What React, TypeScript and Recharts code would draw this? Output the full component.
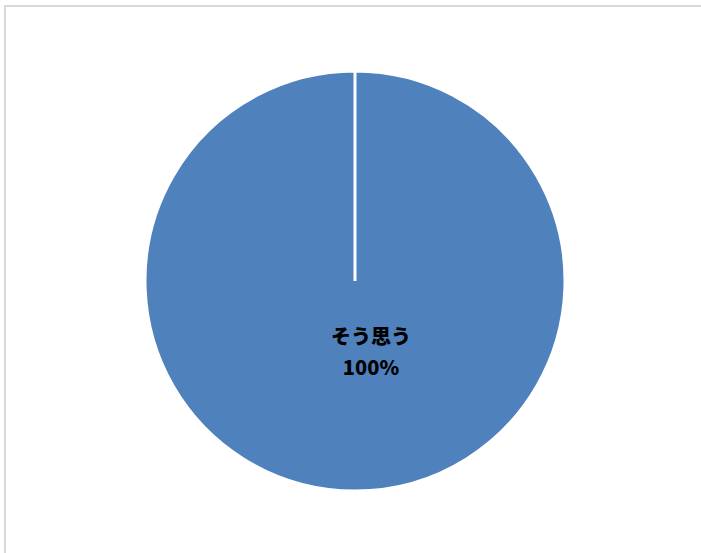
import React from "react";
import { PieChart, Pie, Cell } from "recharts";

const categories = ["そう思う"];
const values = [100];
const colors = ["#4F81BD"];

const data = categories.map((name, i) => ({ name, value: values[i] }));
const total = values.reduce((a, b) => a + b, 0);

const CenterLabel = (props: any) => {
  const { cx, cy, name, value } = props;
  const pct = `${Math.round((value / total) * 100)}%`;
  return (
    <text
      x={cx + 16}
      textAnchor="middle"
      fill="#000000"
      style={{
        fontFamily: "'Noto Sans CJK JP', sans-serif",
        fontWeight: 900,
        fontSize: 20,
      }}
    >
      <tspan x={cx + 16} y={cy + 63}>
        {name}
      </tspan>
      <tspan x={cx + 16} y={cy + 94}>
        {pct}
      </tspan>
    </text>
  );
};

const App: React.FC = () => {
  return (
    <div
      style={{
        position: "fixed",
        left: 0,
        top: 0,
        width: 701,
        height: 553,
        overflow: "hidden",
        background: "#ffffff",
      }}
    >
      {/* chart area border, cropped at right/bottom */}
      <div
        style={{
          position: "absolute",
          left: 4,
          top: 5,
          width: 720,
          height: 580,
          border: "2px solid #d9d9d9",
          boxSizing: "border-box",
        }}
      />
      <div style={{ position: "absolute", left: 0, top: 0 }}>
        <PieChart width={701} height={553}>
          <Pie
            data={data}
            dataKey="value"
            nameKey="name"
            cx={350}
            cy={276}
            outerRadius={210}
            startAngle={90}
            endAngle={-270}
            stroke="#ffffff"
            strokeWidth={3}
            label={<CenterLabel />}
            labelLine={false}
            isAnimationActive={false}
          >
            {data.map((d, i) => (
              <Cell key={d.name} fill={colors[i]} />
            ))}
          </Pie>
        </PieChart>
      </div>
    </div>
  );
};

export default App;
